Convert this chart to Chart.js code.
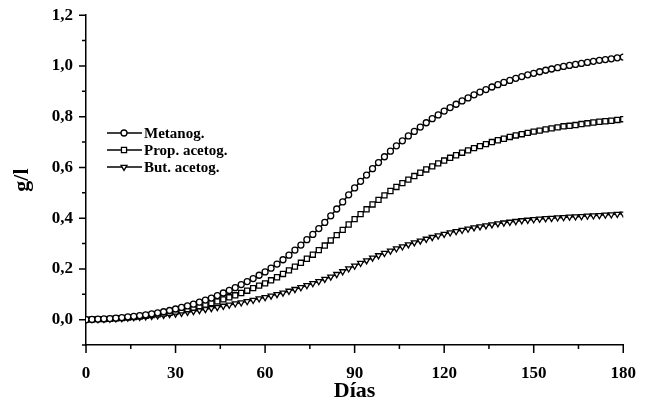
<!DOCTYPE html>
<html>
<head>
<meta charset="utf-8">
<script src="https://cdn.jsdelivr.net/npm/chart.js@4/dist/chart.umd.min.js"></script>
<style>
  html, body { margin: 0; padding: 0; background: #fff; }
  canvas { display: block; }
</style>
</head>
<body>
<canvas id="chart" width="646" height="405"></canvas>
<script>
// --- データ ---
const days = [0, 2, 4, 6, 8, 10, 12, 14, 16, 18, 20, 22, 24, 26, 28, 30, 32, 34, 36, 38,
  40, 42, 44, 46, 48, 50, 52, 54, 56, 58, 60, 62, 64, 66, 68, 70, 72, 74, 76, 78,
  80, 82, 84, 86, 88, 90, 92, 94, 96, 98, 100, 102, 104, 106, 108, 110, 112, 114, 116, 118,
  120, 122, 124, 126, 128, 130, 132, 134, 136, 138, 140, 142, 144, 146, 148, 150, 152, 154, 156, 158,
  160, 162, 164, 166, 168, 170, 172, 174, 176, 178, 180];

const metanog = [0.000, 0.001, 0.002, 0.003, 0.004, 0.006, 0.008, 0.011, 0.013, 0.016,
  0.019, 0.023, 0.027, 0.031, 0.036, 0.042, 0.048, 0.054, 0.061, 0.069,
  0.077, 0.085, 0.095, 0.105, 0.115, 0.126, 0.138, 0.150, 0.162, 0.175,
  0.188, 0.203, 0.219, 0.236, 0.254, 0.274, 0.294, 0.315, 0.336, 0.359,
  0.383, 0.409, 0.436, 0.464, 0.492, 0.519, 0.545, 0.570, 0.595, 0.619,
  0.642, 0.664, 0.685, 0.705, 0.724, 0.742, 0.759, 0.776, 0.792, 0.807,
  0.822, 0.836, 0.849, 0.862, 0.874, 0.886, 0.897, 0.907, 0.917, 0.926,
  0.935, 0.943, 0.951, 0.958, 0.965, 0.971, 0.977, 0.983, 0.988, 0.993,
  0.998, 1.002, 1.006, 1.010, 1.014, 1.018, 1.022, 1.025, 1.028, 1.032, 1.035];

const propAcetog = [0.000, 0.001, 0.002, 0.002, 0.003, 0.005, 0.006, 0.008, 0.010, 0.012,
  0.015, 0.018, 0.021, 0.024, 0.027, 0.032, 0.037, 0.041, 0.047, 0.053,
  0.059, 0.065, 0.072, 0.080, 0.088, 0.096, 0.105, 0.114, 0.124, 0.134,
  0.143, 0.155, 0.167, 0.180, 0.194, 0.209, 0.224, 0.240, 0.256, 0.274,
  0.292, 0.312, 0.333, 0.354, 0.375, 0.396, 0.416, 0.435, 0.454, 0.472,
  0.490, 0.507, 0.523, 0.538, 0.552, 0.566, 0.579, 0.592, 0.604, 0.616,
  0.627, 0.638, 0.648, 0.658, 0.667, 0.676, 0.684, 0.692, 0.700, 0.707,
  0.713, 0.720, 0.726, 0.731, 0.736, 0.741, 0.745, 0.750, 0.754, 0.758,
  0.762, 0.764, 0.767, 0.771, 0.774, 0.777, 0.780, 0.782, 0.784, 0.787, 0.790];

const butAcetog = [0.000, 0.001, 0.001, 0.002, 0.003, 0.004, 0.005, 0.007, 0.009, 0.010,
  0.012, 0.014, 0.016, 0.018, 0.021, 0.023, 0.026, 0.030, 0.033, 0.037,
  0.041, 0.045, 0.049, 0.054, 0.058, 0.063, 0.067, 0.072, 0.077, 0.083,
  0.088, 0.094, 0.100, 0.106, 0.113, 0.120, 0.127, 0.135, 0.143, 0.151,
  0.160, 0.169, 0.179, 0.190, 0.201, 0.212, 0.223, 0.233, 0.244, 0.253,
  0.262, 0.271, 0.280, 0.288, 0.296, 0.304, 0.311, 0.318, 0.325, 0.331,
  0.337, 0.343, 0.348, 0.353, 0.358, 0.363, 0.367, 0.371, 0.375, 0.379,
  0.382, 0.385, 0.388, 0.391, 0.393, 0.395, 0.397, 0.399, 0.400, 0.402,
  0.403, 0.405, 0.406, 0.407, 0.409, 0.410, 0.411, 0.413, 0.414, 0.416, 0.417];

const seriesLabels = ['Metanog.', 'Prop. acetog.', 'But. acetog.'];

// --- 共通スタイル ---
const FONT = '"Liberation Serif", "DejaVu Serif", serif';

function makeSet(label, values, style, radius, rotation) {
  return {
    label,
    data: days.map((d, i) => ({ x: d, y: values[i] })),
    borderColor: '#000',
    borderWidth: 1.5,
    pointStyle: style,
    pointRadius: radius,
    pointRotation: rotation,
    pointBorderWidth: 1.3,
    pointBorderColor: '#000',
    pointBackgroundColor: '#fff',
    backgroundColor: '#fff',
    showLine: true,
    tension: 0
  };
}

// 目盛り線 + 凡例 (自前で描画)
const axisExtras = {
  id: 'axisExtras',
  afterDraw(chart) {
    const ctx = chart.ctx;
    const xs = chart.scales.x, ys = chart.scales.y;
    ctx.save();
    ctx.strokeStyle = '#000';
    ctx.lineWidth = 1.5;
    ctx.beginPath();
    xs.ticks.forEach(t => {
      const px = xs.getPixelForValue(t.value);
      const len = Math.round(t.value) % 30 === 0 ? 8 : 4;
      ctx.moveTo(px, xs.top);
      ctx.lineTo(px, xs.top + len);
    });
    ys.ticks.forEach(t => {
      const py = ys.getPixelForValue(t.value);
      const major = Math.round(t.value * 10) % 2 === 0;
      ctx.moveTo(ys.right, py);
      ctx.lineTo(ys.right - (major ? 7 : 4), py);
    });
    ctx.stroke();

    // 凡例
    const rows = [133, 150, 167];
    ctx.font = 'bold 15px ' + FONT;
    ctx.textBaseline = 'middle';
    chart.data.datasets.forEach((ds, i) => {
      const y = rows[i];
      ctx.lineWidth = 1.5;
      ctx.beginPath();
      ctx.moveTo(107, y);
      ctx.lineTo(142, y);
      ctx.stroke();
      ctx.fillStyle = '#fff';
      ctx.lineWidth = 1.3;
      Chart.helpers.drawPoint(ctx, {
        pointStyle: ds.pointStyle, radius: ds.pointRadius,
        rotation: ds.pointRotation, borderWidth: 1.3
      }, 124, y);
      ctx.fillStyle = '#000';
      ctx.fillText(ds.label, 144, y + 1);
    });
    ctx.restore();
  }
};

new Chart(document.getElementById('chart'), {
  type: 'line',
  data: {
    datasets: [
      makeSet(seriesLabels[0], metanog, 'circle', 3, 0),
      makeSet(seriesLabels[1], propAcetog, 'rect', 3.6, 0),
      makeSet(seriesLabels[2], butAcetog, 'triangle', 3.4, 180)
    ]
  },
  options: {
    responsive: false,
    animation: false,
    layout: { padding: { left: 0, right: 17, top: 14, bottom: 0 } },
    plugins: { legend: { display: false }, tooltip: { enabled: false } },
    scales: {
      x: {
        type: 'linear',
        min: 0, max: 180,
        afterFit: s => { s.height = 60; },
        grid: { display: false },
        border: { display: true, color: '#000', width: 1.5 },
        ticks: {
          stepSize: 15,
          padding: 10,
          color: '#000',
          font: { family: FONT, size: 17, weight: 'bold' },
          maxRotation: 0,
          callback: v => (Math.round(v) % 30 === 0 ? String(v) : '')
        },
        title: {
          display: true, text: 'Días', color: '#000',
          font: { family: FONT, size: 22, weight: 'bold' },
          padding: { top: 0, bottom: 0 }
        }
      },
      y: {
        min: -0.1, max: 1.2,
        afterFit: s => { s.width = 86; },
        grid: { display: false },
        border: { display: true, color: '#000', width: 1.5 },
        ticks: {
          stepSize: 0.1,
          padding: 5,
          color: '#000',
          font: { family: FONT, size: 17, weight: 'bold' },
          callback: v => {
            const n = Math.round(v * 10);
            return n % 2 === 0 ? (n / 10).toFixed(1).replace('.', ',') : '';
          }
        },
        title: {
          display: true, text: 'g/l', color: '#000',
          font: { family: FONT, size: 22, weight: 'bold' },
          padding: { top: 9, bottom: 0 }
        }
      }
    }
  },
  plugins: [axisExtras]
});
</script>
</body>
</html>
